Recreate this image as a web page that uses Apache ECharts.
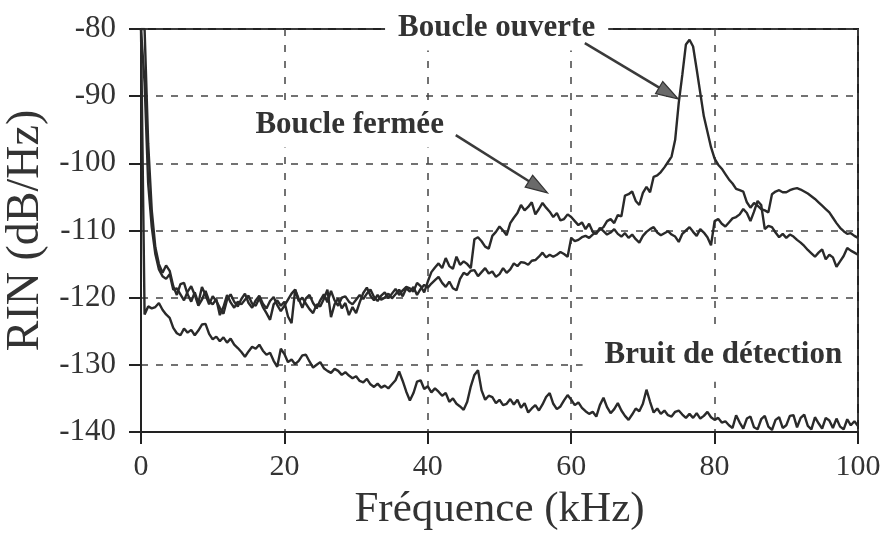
<!DOCTYPE html>
<html>
<head>
<meta charset="utf-8">
<script src="https://cdn.jsdelivr.net/npm/echarts@6/dist/echarts.min.js"></script>
<style>
  html, body { margin: 0; padding: 0; background: #fff; }
  #chart { width: 885px; height: 534px; }
</style>
</head>
<body>
<div id="chart"></div>
<script>
// Frequency grid (kHz), 0.5 kHz resolution
const freqKHz = [
  0, 0.5, 1, 1.5, 2, 2.5, 3, 3.5, 4, 4.5,
  5, 5.5, 6, 6.5, 7, 7.5, 8, 8.5, 9, 9.5,
  10, 10.5, 11, 11.5, 12, 12.5, 13, 13.5, 14, 14.5,
  15, 15.5, 16, 16.5, 17, 17.5, 18, 18.5, 19, 19.5,
  20, 20.5, 21, 21.5, 22, 22.5, 23, 23.5, 24, 24.5,
  25, 25.5, 26, 26.5, 27, 27.5, 28, 28.5, 29, 29.5,
  30, 30.5, 31, 31.5, 32, 32.5, 33, 33.5, 34, 34.5,
  35, 35.5, 36, 36.5, 37, 37.5, 38, 38.5, 39, 39.5,
  40, 40.5, 41, 41.5, 42, 42.5, 43, 43.5, 44, 44.5,
  45, 45.5, 46, 46.5, 47, 47.5, 48, 48.5, 49, 49.5,
  50, 50.5, 51, 51.5, 52, 52.5, 53, 53.5, 54, 54.5,
  55, 55.5, 56, 56.5, 57, 57.5, 58, 58.5, 59, 59.5,
  60, 60.5, 61, 61.5, 62, 62.5, 63, 63.5, 64, 64.5,
  65, 65.5, 66, 66.5, 67, 67.5, 68, 68.5, 69, 69.5,
  70, 70.5, 71, 71.5, 72, 72.5, 73, 73.5, 74, 74.5,
  75, 75.5, 76, 76.5, 77, 77.5, 78, 78.5, 79, 79.5,
  80, 80.5, 81, 81.5, 82, 82.5, 83, 83.5, 84, 84.5,
  85, 85.5, 86, 86.5, 87, 87.5, 88, 88.5, 89, 89.5,
  90, 90.5, 91, 91.5, 92, 92.5, 93, 93.5, 94, 94.5,
  95, 95.5, 96, 96.5, 97, 97.5, 98, 98.5, 99, 99.5,
  100
];

// RIN, open loop (dB/Hz)
const rinOpenLoop = [
  -80, -88, -103, -109.5, -113.5, -115.8, -116.8, -117.2, -116.5, -118.8,
  -118.6, -119.5, -120.4, -119.1, -118.3, -119.6, -121.2, -120.3, -119.0, -120.5,
  -121.0, -120.2, -122.6, -121.4, -119.6, -120.7, -121.5, -120.6, -121.0, -120.3,
  -119.7, -120.9, -121.2, -120.1, -121.4, -122.3, -123.3, -121.0, -120.4, -121.2,
  -120.6, -122.8, -123.8, -118.8, -120.5, -120.0, -120.9, -121.7, -122.3, -121.0,
  -121.3, -120.2, -118.8, -122.9, -121.0, -120.1, -121.6, -120.8, -122.6, -121.4,
  -122.3, -120.7, -119.3, -118.5, -119.7, -120.4, -119.6, -120.3, -120.0, -119.4,
  -120.1, -119.5, -118.8, -119.8, -118.6, -119.1, -118.4, -119.6, -118.7, -118.1,
  -118.5, -117.9, -117.4, -116.9, -117.8, -118.4, -117.6, -118.6, -118.9, -117.2,
  -116.3, -116.6, -116.0, -115.9, -116.8, -116.2, -115.6, -116.4, -116.1, -116.9,
  -116.5, -115.6, -116.3, -115.8, -114.9, -115.3, -114.7, -114.8, -115.1, -114.5,
  -114.4, -113.9, -113.3, -114.0, -113.6, -113.9, -113.6, -113.2, -113.5, -113.9,
  -111.1, -111.6, -111.4, -111.0, -110.8, -111.1, -110.6, -110.3, -109.9, -109.5,
  -108.6, -108.3, -108.9, -107.7, -107.9, -104.8, -104.6, -104.2, -105.6, -106.2,
  -104.4, -103.5, -104.3, -102.0, -101.8, -101.3, -100.6, -99.8, -99.0, -96.5,
  -91.0, -86.8, -82.3, -81.6, -82.6, -86.0, -89.5, -93.0, -95.3, -97.6,
  -99.3, -100.2, -100.8, -101.6, -102.4, -103.0, -103.8, -104.0, -104.2, -105.8,
  -106.6, -105.9, -106.3, -106.8, -107.0, -107.3, -104.6, -104.2, -104.0, -104.3,
  -104.3, -104.0, -103.8, -103.7, -103.9, -104.2, -104.5, -104.9, -105.3, -105.8,
  -106.3, -106.8, -107.3, -108.1, -108.9, -109.6, -110.1, -110.5, -110.4, -110.8,
  -111.1
];

// RIN, closed loop (dB/Hz)
const rinClosedLoop = [
  -80, -80, -97, -107, -112.5, -115, -116.3, -115.2, -116.0, -118.3,
  -119.6, -118.0, -117.8, -119.5, -120.6, -119.2, -120.8, -118.4, -119.6, -121.0,
  -119.8, -120.5, -121.5, -122.4, -120.3, -119.5, -120.6, -121.3, -120.2, -119.4,
  -120.8, -121.5, -120.4, -119.7, -120.9, -121.6, -120.5, -119.9, -121.1, -122.0,
  -121.2, -120.3, -119.4, -118.8, -120.2, -121.5, -120.1, -119.6, -120.8, -121.6,
  -120.4, -119.5, -120.7, -119.0, -120.4, -121.2, -120.0, -119.8, -120.6, -121.0,
  -120.3, -119.6, -120.2, -119.4, -118.8, -119.9, -120.5, -119.7, -119.2, -120.1,
  -119.4, -118.7, -119.6, -118.9, -118.4, -118.6, -119.1, -117.8, -118.3, -119.2,
  -117.6, -116.2, -115.5, -114.9, -115.6, -114.1, -115.3, -115.7, -113.9, -115.1,
  -114.6, -115.0, -115.6, -111.3, -111.0, -111.6, -112.4, -112.7, -110.8, -110.2,
  -109.4, -110.0, -110.7, -108.9, -108.1, -107.4, -106.2, -107.0, -106.5, -105.8,
  -107.6, -106.8, -105.9, -106.6, -107.2, -108.0, -107.4, -108.5, -108.3, -107.6,
  -108.0, -108.6, -109.2, -108.8, -109.8, -109.0, -110.2, -110.5, -109.6, -110.1,
  -110.6, -110.3, -109.8, -110.5, -110.9, -110.4, -111.1, -110.6, -111.3, -111.8,
  -110.8, -110.2, -109.8, -109.5, -110.3, -110.7, -110.4, -110.1, -110.6, -110.9,
  -111.7, -110.5, -110.0, -109.5, -110.2, -110.8, -109.8, -110.3, -111.0, -112.2,
  -108.6, -108.3, -109.0, -109.4, -108.8, -108.2, -108.0, -107.6, -106.8, -107.4,
  -108.6, -107.2, -105.6, -106.2, -109.8, -109.3, -109.5, -110.3, -111.0, -110.5,
  -111.1, -110.6, -110.9, -111.4, -111.8, -112.3, -112.9, -113.4, -113.9, -113.3,
  -112.8, -114.3, -113.6, -114.0, -115.4, -114.6, -113.8, -112.6, -113.0, -113.3,
  -113.6
];

// Detection noise floor (dB/Hz)
const detectionNoise = [
  -80, -122.5, -121.3, -121.6, -121.4, -120.8, -121.8, -122.5, -123.0, -124.5,
  -125.3, -125.6, -124.6, -125.2, -124.8, -125.6, -124.9, -124.0, -123.9, -125.4,
  -126.2, -125.8, -126.5, -125.9, -126.7, -126.1, -127.0, -127.5, -128.1, -128.8,
  -128.0, -127.3, -127.6, -127.0, -127.9, -128.5, -128.2, -129.4, -130.3, -127.6,
  -128.4, -129.6, -129.2, -129.9, -129.4, -128.6, -128.5, -129.5, -130.4, -130.0,
  -129.6, -130.5, -130.9, -131.2, -130.6, -130.9, -131.5, -131.1, -131.6, -132.0,
  -131.7, -132.4, -132.6, -132.1, -132.9, -133.3, -132.8, -133.4, -133.1, -133.5,
  -132.9, -132.3, -131.0, -132.4, -134.0, -135.3, -134.2, -132.5, -132.3, -133.6,
  -133.2, -134.1, -133.5, -134.0, -134.6, -134.2, -135.5, -135.0, -135.8, -136.2,
  -136.7, -135.5, -133.2, -131.5, -130.8, -133.8, -135.2, -134.6, -134.8, -135.7,
  -135.2, -136.0, -135.8, -135.1, -135.9, -135.2, -136.4, -135.7, -137.1, -136.5,
  -136.0, -136.8, -135.9, -134.8, -134.2, -135.8, -136.6, -136.2, -135.3, -134.5,
  -135.2, -136.0, -135.6, -136.4, -136.9, -137.3, -137.0, -137.7, -136.0, -134.9,
  -136.3, -137.2, -136.6, -135.7, -136.8, -137.6, -138.2, -137.4, -136.5, -136.9,
  -135.8, -133.7, -135.5, -137.1, -136.5, -137.3, -136.8, -137.5, -137.7, -137.0,
  -136.8, -137.4, -137.9, -137.3, -137.9, -137.2, -138.0, -137.6, -137.0, -137.8,
  -138.2, -137.9, -138.6, -138.4, -139.0, -139.4, -137.5, -138.6, -139.5, -138.0,
  -137.7, -139.3, -139.6, -138.1, -137.6, -139.2, -139.7, -138.2, -137.8, -139.4,
  -139.0, -137.6, -137.5, -139.3, -137.9, -137.4, -139.1, -139.6, -137.8, -138.7,
  -139.5, -137.9, -138.3, -139.4, -138.0, -139.2, -139.6, -138.1, -139.0, -138.4,
  -139.1
];

// Annotation texts and their anchors in data units [kHz, dB/Hz]
const labelOpen = 'Boucle ouverte';
const labelClosed = 'Boucle fermée';
const labelNoise = 'Bruit de détection';
const anchorOpen = [49.6, -79.85];
const anchorClosed = [29.1, -94.3];
const anchorNoise = [80.6, -128.5];
const arrowOpen = { from: [61.9, -82.1], to: [74.9, -90.4] };
const arrowClosed = { from: [43.9, -95.8], to: [56.7, -104.4] };

const SERIF = '"Liberation Serif", "Times New Roman", serif';
const INK = '#2a2a2a';

const chart = echarts.init(document.getElementById('chart'), null, { renderer: 'canvas' });

function pairs(vals) {
  return freqKHz.map((f, i) => [f, vals[i]]);
}

const lineStyle = { color: INK, width: 2.4 };

chart.setOption({
  animation: false,
  backgroundColor: '#ffffff',
  grid: {
    left: 141, right: 27, top: 29, bottom: 102,
    outerBoundsMode: 'none', containLabel: false,
    show: true, borderColor: '#222', borderWidth: 2, backgroundColor: 'transparent'
  },
  xAxis: {
    type: 'value', min: 0, max: 100, interval: 20,
    name: 'Fréquence (kHz)', nameLocation: 'middle', nameGap: 56,
    nameTextStyle: { fontFamily: SERIF, fontSize: 43, color: '#333' },
    axisLine: { lineStyle: { color: '#222', width: 2 } },
    axisTick: { show: true, inside: false, length: 12, lineStyle: { color: '#222', width: 2 } },
    axisLabel: { margin: 20, fontFamily: SERIF, fontSize: 30, color: '#333' },
    splitLine: { show: true, lineStyle: { color: '#444', width: 1.5, type: [7, 9] } }
  },
  yAxis: {
    type: 'value', min: -140, max: -80, interval: 10,
    name: 'RIN (dB/Hz)', nameLocation: 'middle', nameGap: 92, nameRotate: 90,
    nameMoveOverlap: false,
    nameTextStyle: { fontFamily: SERIF, fontSize: 46, color: '#333' },
    axisLine: { show: true, lineStyle: { color: '#222', width: 2 } },
    axisTick: { show: true, inside: false, length: 12, lineStyle: { color: '#222', width: 2 } },
    axisLabel: { margin: 25, fontFamily: SERIF, fontSize: 31, color: '#333' },
    splitLine: { show: true, lineStyle: { color: '#444', width: 1.5, type: [7, 8] } }
  },
  series: [
    { name: labelNoise, type: 'line', data: pairs(detectionNoise), showSymbol: false, lineStyle, z: 3 },
    { name: labelOpen, type: 'line', data: pairs(rinOpenLoop), showSymbol: false, lineStyle, z: 4 },
    { name: labelClosed, type: 'line', data: pairs(rinClosedLoop), showSymbol: false, lineStyle, z: 5 }
  ]
});

function px(pt) {
  return chart.convertToPixel({ gridIndex: 0 }, pt);
}

function arrow(spec) {
  const a = px(spec.from), b = px(spec.to);
  const dx = b[0] - a[0], dy = b[1] - a[1];
  const len = Math.hypot(dx, dy);
  const ux = dx / len, uy = dy / len;
  const headLen = 22, headHalf = 7;
  const bx = b[0] - ux * headLen, by = b[1] - uy * headLen;
  const nx = -uy, ny = ux;
  return [
    {
      type: 'line', z: 100,
      shape: { x1: a[0], y1: a[1], x2: bx + ux * 2, y2: by + uy * 2 },
      style: { stroke: '#3a3a3a', lineWidth: 2.5 }
    },
    {
      type: 'polygon', z: 101,
      shape: { points: [[b[0], b[1]], [bx + nx * headHalf, by + ny * headHalf], [bx - nx * headHalf, by - ny * headHalf]] },
      style: { fill: '#6a6a6a', stroke: '#333', lineWidth: 1.2 }
    }
  ];
}

function label(text, anchor, padding) {
  const p = px(anchor);
  return {
    type: 'text', z: 90, x: p[0], y: p[1],
    style: {
      text, fill: '#333', font: 'bold 31px ' + SERIF,
      align: 'center', verticalAlign: 'middle',
      backgroundColor: '#ffffff', padding
    }
  };
}

chart.setOption({
  graphic: [
    label(labelOpen, anchorOpen, [4, 13, 10, 13]),
    label(labelClosed, anchorClosed, [2, 6, 12, 6]),
    label(labelNoise, anchorNoise, [14, 13, 9, 22]),
    ...arrow(arrowOpen),
    ...arrow(arrowClosed)
  ]
});
</script>
</body>
</html>
